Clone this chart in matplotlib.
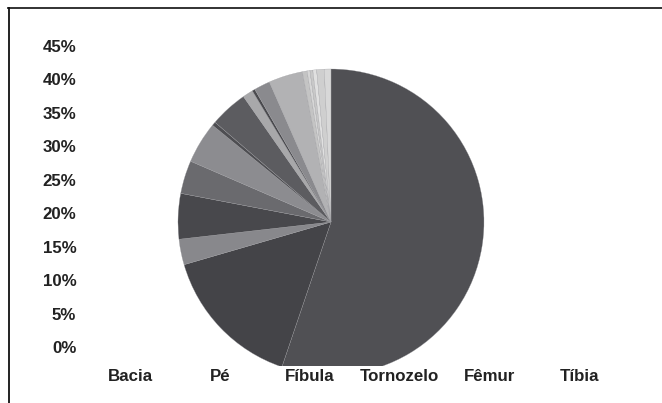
import matplotlib

matplotlib.use("Agg")

import matplotlib.pyplot as plt
from matplotlib.lines import Line2D

# categorias do eixo x (o gráfico original não tem barras visíveis)
categorias = ["Bacia", "Pé", "Fíbula", "Tornozelo", "Fêmur", "Tíbia"]
yticks = [0.00, 0.05, 0.10, 0.15, 0.20, 0.25, 0.30, 0.35, 0.40, 0.45]
ytick_labels = ["0%", "5%", "10%", "15%", "20%", "25%", "30%", "35%", "40%", "45%"]

# fatias da pizza, em sentido horário a partir do topo (% estimado)
fatias = [55.2, 15.3, 2.7, 4.8, 3.5, 4.4, 0.4, 4.0, 1.1, 0.3, 1.7, 3.6,
          0.5, 0.3, 0.3, 0.4, 0.8, 0.7]
cores = ["#505054", "#444448", "#88888c", "#48484c", "#6a6a6e", "#8c8c90",
         "#4e4e52", "#5c5c60", "#a8a8aa", "#4a4a4e", "#8a8a8e", "#b2b2b4",
         "#c4c4c4", "#d6d6d6", "#c8c8c8", "#e0e0e0", "#cfcfcf", "#d8d8d8"]

plt.rcParams["font.family"] = ["Liberation Sans", "DejaVu Sans"]

W, H = 662, 403
fig = plt.figure(figsize=(W / 100, H / 100), dpi=100)

# eixo de categorias / percentuais
ax = fig.add_axes([86 / W, 56 / H, 538 / W, 301 / H])
ax.set_xlim(-0.5, len(categorias) - 0.5)
ax.set_ylim(0, 0.45)
ax.set_xticks(range(len(categorias)))
ax.set_xticklabels(categorias, fontsize=12.2, fontweight="bold", color="#222222")
ax.set_yticks(yticks)
ax.set_yticklabels(ytick_labels, fontsize=12.2, fontweight="bold", color="#222222")
ax.tick_params(axis="x", length=0, pad=16)
ax.tick_params(axis="y", length=0, pad=7)
for s in ax.spines.values():
    s.set_visible(False)

# pizza sobreposta, cortada na parte de baixo
cx, cy, r = 331, 222, 153
pax = fig.add_axes([(cx - 160) / W, 37 / H, 320 / W, 304 / H])
wedges, _ = pax.pie(fatias, colors=cores, startangle=90, counterclock=False,
                    radius=1.0, wedgeprops=dict(edgecolor="#9a9a9e", linewidth=0.2))
for w in wedges:
    w.set_clip_on(True)
pax.set_aspect("auto")
pax.set_xlim(-160 / r, 160 / r)
pax.set_ylim(-(366 - cy) / r, (cy - 62) / r)
pax.axis("off")

# moldura (topo e esquerda)
fig.add_artist(Line2D([8 / W, 1], [395 / H, 395 / H], color="#222222", lw=1.3))
fig.add_artist(Line2D([9 / W, 9 / W], [0, 395 / H], color="#111111", lw=1.3))

fig.savefig("out.png", dpi=100)
